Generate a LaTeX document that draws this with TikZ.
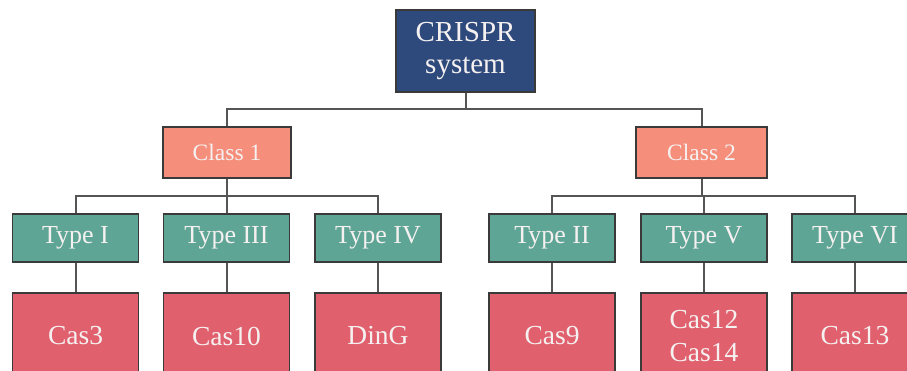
\documentclass[tikz,border=0pt]{standalone}
\usepackage{fontspec}
\setmainfont{Liberation Serif}
\usepackage{tikz}

\definecolor{rootblue}{HTML}{2E4A7C}
\definecolor{classred}{HTML}{F58E7B}
\definecolor{typegreen}{HTML}{5FA595}
\definecolor{casred}{HTML}{E0606E}
\definecolor{edgegray}{HTML}{3A3A3A}
\definecolor{linkgray}{HTML}{555555}
\definecolor{paper}{HTML}{F6F1F1}

\tikzset{
  box/.style={rectangle, draw=edgegray, line width=1.6pt, text=paper, inner sep=0pt, align=center},
  link/.style={draw=linkgray, line width=2pt}
}

\begin{document}
\begin{tikzpicture}[x=1pt, y=-1pt]
\useasboundingbox (0,0) rectangle (907,371);
\clip (0,0) rectangle (907,371);

\begin{scope}[every node/.style={box}]
	%Level 0
	\node[fill=rootblue, minimum width=139pt, minimum height=82pt,
	      font=\fontsize{29}{32}\selectfont] (crispr) at (465.5, 51) {CRISPR\\system};

	%Level 1
	\node[fill=classred, minimum width=128pt, minimum height=51pt,
	      font=\fontsize{23.5}{28}\selectfont] (class_1) at (227, 152.5) {Class 1};
	\node[fill=classred, minimum width=131pt, minimum height=51pt,
	      font=\fontsize{23.5}{28}\selectfont] (class_2) at (701.5, 152.5) {Class 2};
\end{scope}

\begin{scope}[every node/.style={box, fill=typegreen, minimum width=126pt, minimum height=48pt,
                                 font=\fontsize{26}{30}\selectfont}]
	%Level 2
	\node (type_1) at (75.5, 238) {Type I};
	\node (type_3) at (226.5, 238) {Type III};
	\node (type_4) at (378, 238) {Type IV};

	\node (type_2) at (552, 238) {Type II};
	\node (type_5) at (704, 238) {Type V};
	\node (type_6) at (855, 238) {Type VI};
\end{scope}

\begin{scope}[every node/.style={box, fill=casred, minimum width=126pt, minimum height=86pt,
                                 font=\fontsize{27.5}{33}\selectfont}]
	%Level 3
	\node (cas_3) at (75.5, 336) {Cas3};
	\node (cas_10) at (226.5, 336) {Cas10};
	\node (cas_dinG) at (378, 336) {DinG};

	\node (cas_9) at (552, 336) {Cas9};
	\node (cas_12) at (704, 336) {Cas12\\Cas14};
	\node (cas_13) at (855, 336) {Cas13};
\end{scope}

\begin{scope}[every path/.style={link}]
	%Level 0 to 1
	\draw (crispr.south) -- ++(0,16) coordinate (bus_0) -| (class_1.north);
	\draw (bus_0) -| (class_2.north);

	%Level 1 to 2
	\draw (class_1.south) -- ++(0,17) coordinate (bus_1) -| (type_1.north);
	\draw (bus_1) -| (type_4.north);
	\draw (type_3.north |- bus_1) -- (type_3.north);

	\draw (class_2.south) -- ++(0,17) coordinate (bus_2) -| (type_2.north);
	\draw (bus_2) -| (type_6.north);
	\draw (type_5.north |- bus_2) -- (type_5.north);

	%Level 2 to 3
	\draw (type_1) -- (cas_3);
	\draw (type_3) -- (cas_10);
	\draw (type_4) -- (cas_dinG);
	\draw (type_2) -- (cas_9);
	\draw (type_5) -- (cas_12);
	\draw (type_6) -- (cas_13);
\end{scope}
\end{tikzpicture}
\end{document}
